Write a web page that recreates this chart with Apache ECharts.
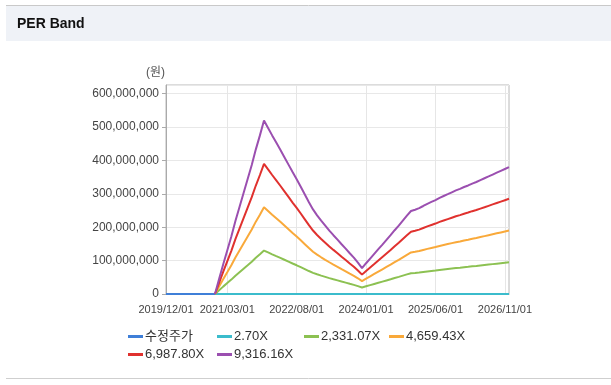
<!DOCTYPE html>
<html>
<head>
<meta charset="utf-8">
<script src="https://cdn.jsdelivr.net/npm/echarts@6/dist/echarts.min.js"></script>
<style>
html,body{margin:0;padding:0;background:#fff;}
#c{width:611px;height:385px;}
</style>
</head>
<body>
<div id="c"></div>
<script>
// ---- data (values in millions of won) ----
const months = [];
for (let i = 0; i < 85; i++) {
  const y = 2019 + Math.floor((11 + i) / 12);
  const m = (11 + i) % 12 + 1;
  months.push(y + '/' + String(m).padStart(2, '0') + '/01');
}
const labelIdx = [0, 15, 32, 49, 66, 83];
const yTicks = [0, 100, 200, 300, 400, 500, 600];

const seriesNames = ['수정주가', '2.70X', '2,331.07X', '4,659.43X', '6,987.80X', '9,316.16X'];

const price = [0,0,0,0,0,0,0,0,0,0,0,0,0,0,0,0,0,0,0,0,0,0,0,0,0,0,0,0,0,0,0,0,0,0,0,0,0,0,0,0,0,0,0,0,0,0,0,0,0,0,0,0,0,0,0,0,0,0,0,0,0,0,0,0,0,0,0,0,0,0,0,0,0,0,0,0,0,0,0,0,0,0,0,0,0];

const per270 = [null,null,null,null,null,null,null,null,null,null,null,null,
  0,0.01,0.03,0.04,0.05,0.06,0.08,0.09,0.1,0.11,0.13,0.14,0.15,
  0.14,0.14,0.13,0.13,0.12,0.11,0.11,0.1,0.09,0.09,0.08,0.07,0.07,0.06,0.06,0.06,0.05,0.05,0.04,0.04,0.04,0.03,0.03,0.02,
  0.03,0.03,0.03,0.04,0.04,0.05,0.05,0.06,0.06,0.06,0.07,0.07,
  0.07,0.07,0.08,0.08,0.08,0.08,0.08,0.09,0.09,0.09,0.09,0.09,0.09,0.09,0.1,0.1,0.1,0.1,0.1,0.1,0.11,0.11,0.11,0.11];

const per2331 = [null,null,null,null,null,null,null,null,null,null,null,null,
  0,11.2,22.1,32.6,43.1,54.8,65.3,75.8,86.2,96.7,108.4,118.9,130.1,
  124.5,118.9,113.5,108.2,102.6,97.0,91.4,86.0,80.4,74.6,68.8,63.4,59.0,55.0,51.3,47.6,44.1,40.8,37.3,34.0,30.5,27.3,23.5,19.3,
  23.1,26.6,30.1,33.6,37.1,40.6,44.1,47.8,51.3,55.0,58.7,62.2,
  63.2,64.3,66.0,67.6,69.0,70.4,72.0,73.4,74.8,76.2,77.6,78.8,80.2,81.4,82.8,83.9,85.3,86.7,88.1,89.5,90.9,92.3,93.7,95.1];

const per4659 = [null,null,null,null,null,null,null,null,null,null,null,null,
  0,22.4,44.3,65.2,86.2,109.5,130.5,151.4,172.4,193.4,216.7,237.6,260.0,
  248.8,237.6,226.9,216.2,205.0,193.8,182.6,171.9,160.7,149.1,137.5,126.7,117.9,110.0,102.5,95.1,88.1,81.5,74.6,68.0,61.0,54.5,47.1,38.7,
  46.1,53.1,60.1,67.1,74.1,81.1,88.1,95.5,102.5,110.0,117.4,124.4,
  126.3,128.6,131.9,135.1,137.9,140.7,144.0,146.8,149.6,152.4,155.2,157.5,160.3,162.6,165.4,167.7,170.5,173.3,176.1,178.9,181.7,184.5,187.3,190.1];

const per6987 = [null,null,null,null,null,null,null,null,null,null,null,null,
  0,33.5,66.4,97.8,129.3,164.2,195.7,227.1,258.5,290.0,324.9,356.4,389.9,
  373.1,356.4,340.3,324.2,307.5,290.7,273.9,257.9,241.1,223.6,206.1,190.1,176.8,164.9,153.7,142.6,132.1,122.3,111.8,102.0,91.5,81.8,70.6,58.0,
  69.2,79.7,90.1,100.6,111.1,121.6,132.1,143.2,153.7,164.9,176.1,186.6,
  189.4,192.9,197.8,202.6,206.8,211.0,215.9,220.1,224.3,228.5,232.7,236.2,240.4,243.9,248.1,251.6,255.8,259.9,264.1,268.3,272.5,276.7,280.9,285.1];

const per9316 = [null,null,null,null,null,null,null,null,null,null,null,null,
  0,44.7,88.5,130.4,172.3,218.9,260.8,302.8,344.7,386.6,433.2,475.1,519.8,
  497.5,475.1,453.7,432.3,409.9,387.5,365.2,343.8,321.4,298.1,274.8,253.4,235.7,219.9,205.0,190.0,176.1,163.0,149.1,136.0,122.0,109.0,94.1,77.3,
  92.2,106.2,120.2,134.2,148.1,162.1,176.1,191.0,205.0,219.9,234.8,248.7,
  252.5,257.1,263.6,270.2,275.8,281.3,287.9,293.5,299.0,304.6,310.2,314.9,320.5,325.1,330.7,335.4,341.0,346.6,352.1,357.7,363.3,368.9,374.5,380.1];

const seriesData = [price, per270, per2331, per4659, per6987, per9316];
const colors = ['#3f7fd8', '#3bbccc', '#8cc152', '#f9a93a', '#e0312e', '#9b4fb0'];

// ---- chart ----
const FONT = '"Liberation Sans", Arial, "Noto Sans CJK KR", sans-serif';
const chart = echarts.init(document.getElementById('c'), null, {renderer: 'canvas'});

const legendPos = [[128, 330], [217, 330], [304, 330], [389, 330], [128, 348], [217, 348]];
const legends = seriesNames.map((n, i) => ({
  data: [n],
  left: legendPos[i][0],
  top: legendPos[i][1],
  padding: 0,
  icon: 'rect',
  itemWidth: 15,
  itemHeight: 3,
  selectedMode: false,
  textStyle: {fontSize: 13, color: '#333', fontFamily: FONT, padding: [0, 0, 0, -3]}
}));

chart.setOption({
  animation: false,
  color: colors,
  textStyle: {fontFamily: FONT},
  graphic: [
    {type: 'rect', shape: {x: 6, y: 6, width: 605, height: 35}, style: {fill: '#eff2f7'}, silent: true},
    {type: 'line', shape: {x1: 6, y1: 5.5, x2: 611, y2: 5.5}, style: {stroke: '#c9c9c9', lineWidth: 1}, silent: true},
    {type: 'line', shape: {x1: 6, y1: 378.5, x2: 611, y2: 378.5}, style: {stroke: '#cfcfcf', lineWidth: 1}, silent: true},
    {type: 'text', left: 17, top: 17, style: {text: 'PER Band', font: 'bold 14px ' + FONT, fill: '#111'}, silent: true},
    {type: 'text', left: 146, top: 67, style: {text: '(원)', font: '12px ' + FONT, fill: '#555'}, silent: true}
  ],
  legend: legends,
  grid: {left: 166, right: 102, top: 85, bottom: 91, show: true, borderColor: '#b8b8b8', borderWidth: 1, backgroundColor: 'transparent'},
  xAxis: {
    type: 'category',
    data: months,
    boundaryGap: false,
    axisLine: {lineStyle: {color: '#aaa'}},
    axisTick: {show: false},
    axisLabel: {
      interval: (idx) => labelIdx.indexOf(idx) >= 0,
      color: '#444', fontSize: 11, margin: 10, fontFamily: FONT
    },
    splitLine: {show: true, interval: (idx) => labelIdx.indexOf(idx) > 0, lineStyle: {color: '#e6e6e6'}}
  },
  yAxis: {
    type: 'value',
    min: 0,
    max: 626,
    interval: 100,
    axisLine: {show: true, lineStyle: {color: '#aaa'}},
    axisTick: {show: true, length: 4, lineStyle: {color: '#aaa'}},
    axisLabel: {
      showMaxLabel: false,
      color: '#444', fontSize: 12, margin: 7, fontFamily: FONT,
      formatter: (v) => yTicks.indexOf(v) >= 0 ? (v * 1e6).toLocaleString('en-US') : ''
    },
    splitLine: {lineStyle: {color: '#e8e8e8'}}
  },
  series: seriesNames.map((n, i) => ({
    name: n,
    type: 'line',
    data: seriesData[i],
    showSymbol: false,
    symbol: 'none',
    lineStyle: {width: 2, color: colors[i]},
    itemStyle: {color: colors[i]}
  }))
});
</script>
</body>
</html>
